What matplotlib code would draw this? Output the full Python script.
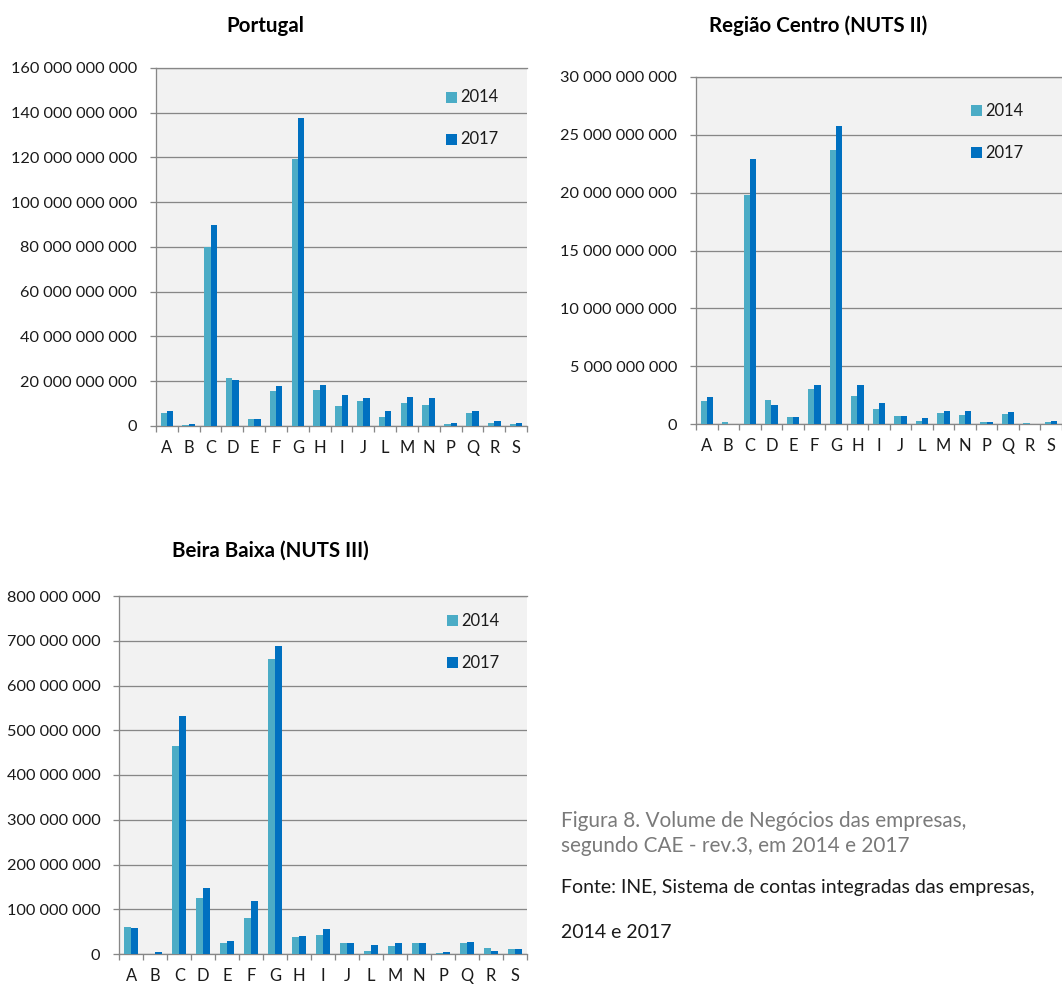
import matplotlib
matplotlib.use("Agg")
import matplotlib.pyplot as plt
from matplotlib.patches import Rectangle
from matplotlib.ticker import FuncFormatter, MultipleLocator
import numpy as np

plt.rcParams['font.family'] = ['Lato', 'DejaVu Sans']

# Economic activity sections (CAE rev.3)
categories = ['A', 'B', 'C', 'D', 'E', 'F', 'G', 'H', 'I', 'J', 'L', 'M', 'N', 'P', 'Q', 'R', 'S']
years = ['2014', '2017']
colors = ['#4bacc6', '#0070c0']

# Turnover (EUR) - Portugal
portugal_2014 = [5.7e9, 0.5e9, 80.1e9, 21.5e9, 3.0e9, 15.5e9, 119.3e9, 15.9e9, 9.0e9,
                 11.3e9, 3.8e9, 10.4e9, 9.5e9, 1.1e9, 5.9e9, 1.4e9, 1.1e9]
portugal_2017 = [6.8e9, 0.9e9, 89.8e9, 20.6e9, 3.2e9, 17.9e9, 137.5e9, 18.5e9, 13.8e9,
                 12.5e9, 6.8e9, 12.9e9, 12.5e9, 1.4e9, 6.8e9, 2.3e9, 1.4e9]

# Turnover (EUR) - Região Centro
centro_2014 = [2.00e9, 0.20e9, 19.75e9, 2.14e9, 0.66e9, 3.03e9, 23.66e9, 2.46e9, 1.33e9,
               0.69e9, 0.29e9, 0.95e9, 0.81e9, 0.17e9, 0.87e9, 0.09e9, 0.20e9]
centro_2017 = [2.37e9, 0.05e9, 22.94e9, 1.65e9, 0.66e9, 3.41e9, 25.75e9, 3.41e9, 1.82e9,
               0.75e9, 0.55e9, 1.16e9, 1.16e9, 0.17e9, 1.04e9, 0.03e9, 0.26e9]

# Turnover (EUR) - Beira Baixa
beira_2014 = [59.4e6, 0.5e6, 465e6, 124.8e6, 24.0e6, 81.2e6, 660e6, 37.6e6, 42.9e6,
              24.0e6, 6.0e6, 18.8e6, 24.0e6, 1.5e6, 24.0e6, 12.8e6, 10.5e6]
beira_2017 = [57.1e6, 3.8e6, 531e6, 147.4e6, 28.6e6, 118.8e6, 688e6, 40.6e6, 56.4e6,
              24.0e6, 21.0e6, 25.6e6, 25.6e6, 3.8e6, 26.3e6, 6.0e6, 10.5e6]

titles = ['Portugal', 'Região Centro (NUTS II)', 'Beira Baixa (NUTS III)']
caption = ['Figura 8. Volume de Negócios das empresas,',
           'segundo CAE - rev.3, em 2014 e 2017']
source = ['Fonte: INE, Sistema de contas integradas das empresas,', '2014 e 2017']

W, H, DPI = 1062, 985, 100
GRID = '#878787'
TXT = '#1a1a1a'
PT = 72.0 / DPI  # points per pixel

fig = plt.figure(figsize=(W / DPI, H / DPI), dpi=DPI)
fig.patch.set_facecolor('white')


def px_axes(left, top, right, bottom):
    return fig.add_axes([left / W, 1 - bottom / H, (right - left) / W, (bottom - top) / H])


def fig_xy(x, y):
    return x / W, 1 - y / H


def space_thousands(v, _pos):
    return f"{int(round(v)):,}".replace(",", " ")


def draw_panel(ax, v14, v17, ymax, step, title, title_xy, legend_xy):
    x = np.arange(len(categories))
    bw = 0.29
    ax.bar(x - bw / 2, v14, bw, color=colors[0], zorder=3)
    ax.bar(x + bw / 2, v17, bw, color=colors[1], zorder=3)
    ax.set_xlim(-0.5, len(categories) - 0.5)
    ax.set_ylim(0, ymax)
    ax.set_facecolor('#f2f2f2')

    ax.yaxis.set_major_locator(MultipleLocator(step))
    ax.yaxis.set_major_formatter(FuncFormatter(space_thousands))
    ax.grid(axis='y', color=GRID, lw=1.3 * PT, zorder=1)
    ax.set_axisbelow(True)

    ax.set_xticks(x)
    ax.set_xticklabels(categories)
    ax.set_xticks(np.arange(-0.5, len(categories)), minor=True)
    ax.tick_params(axis='x', which='major', length=0, pad=14 * PT,
                   labelsize=16.5 * PT, labelcolor=TXT)
    ax.tick_params(axis='x', which='minor', length=6 * PT, width=1.3 * PT, color=GRID)
    ax.tick_params(axis='y', length=6 * PT, width=1.3 * PT, color=GRID, pad=13 * PT,
                   labelsize=16.2 * PT, labelcolor=TXT)

    ax.spines['right'].set_visible(False)
    for side in ('left', 'bottom', 'top'):
        ax.spines[side].set_color(GRID)
        ax.spines[side].set_linewidth(1.3 * PT)

    tx, ty = fig_xy(*title_xy)
    fig.text(tx, ty, title, ha='center', va='center', fontsize=20.5 * PT,
             fontweight='bold', color='black')

    lx, ly = legend_xy
    for i, (yr, col) in enumerate(zip(years, colors)):
        cy = ly + i * 42
        rx, ry = fig_xy(lx, cy + 5.5)
        fig.add_artist(Rectangle((rx, ry), 10.5 / W, 11 / H, transform=fig.transFigure,
                                 facecolor=col, edgecolor='none'))
        t_x, t_y = fig_xy(lx + 14.5, cy)
        fig.text(t_x, t_y, yr, ha='left', va='center', fontsize=16.5 * PT, color=TXT)


ax1 = px_axes(156, 68, 527, 426)
draw_panel(ax1, portugal_2014, portugal_2017, 160e9, 20e9, titles[0], (265.5, 26), (446, 97))

ax2 = px_axes(696, 76.7, 1062, 424.3)
draw_panel(ax2, centro_2014, centro_2017, 30e9, 5e9, titles[1], (818, 26), (971, 110.5))

ax3 = px_axes(119.3, 596, 527, 954)
draw_panel(ax3, beira_2014, beira_2017, 800e6, 100e6, titles[2], (270.5, 551), (447, 620.5))

# Figure caption and source note
for i, line in enumerate(caption):
    cx, cy = fig_xy(561, 827 + i * 24.5)
    fig.text(cx, cy, line, ha='left', va='baseline', fontsize=20.8 * PT, color='#7a7a7a')
for i, line in enumerate(source):
    sx, sy = fig_xy(561, 893 + i * 45)
    fig.text(sx, sy, line, ha='left', va='baseline', fontsize=19.5 * PT, color=TXT)

fig.savefig('out.png', dpi=DPI)
